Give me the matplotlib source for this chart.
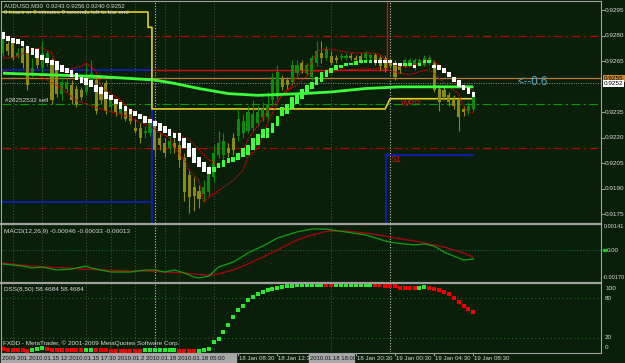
import matplotlib
matplotlib.use("Agg")
import matplotlib.pyplot as plt
from matplotlib.lines import Line2D
from matplotlib.patches import Rectangle

plt.rcParams["font.family"] = ["Liberation Sans", "DejaVu Sans"]

W, H = 625, 363
BG = "#0a1f0a"
FG = "#d8d8d8"
BULL = "#0c8a0c"
BEAR = "#8c8a10"

# AUDUSD M30, bar 0 = 15 Jan 08:30 ... bar 96 = 19 Jan 08:30
opens = [.9270, .9275, .9276, .9268, .9273, .9273, .9258, .9271, .9261, .9264,
         .9266, .9261, .9246, .9249, .9251, .9249, .9248, .9247, .9254, .9254,
         .9250, .9252, .9238, .9241, .9234, .9237, .9235, .9226, .9226, .9223,
         .9223, .9227, .9220, .9217, .9214, .9217, .9216, .9208, .9198, .9191,
         .9189, .9187, .9188, .9197, .9210, .9210, .9214, .9220, .9221, .9223,
         .9224, .9226, .9229, .9232, .9232, .9242, .9244, .9255, .9254, .9253,
         .9258, .9264, .9258, .9256, .9264, .9270, .9267, .9268, .9267, .9267,
         .9267, .9268, .9267, .9268, .9267, .9267, .9269, .9267, .9267, .9266,
         .9264, .9263, .9262, .9263, .9261, .9264, .9263, .9264, .9264, .9249,
         .9248, .9245, .9243, .9242, .9237, .9236, .9237]
highs = [.9283, .9277, .9277, .9273, .9276, .9274, .9267, .9273, .9277, .9271,
         .9267, .9264, .9256, .9255, .9254, .9251, .9250, .9264, .9266, .9256,
         .9251, .9254, .9245, .9243, .9242, .9240, .9237, .9231, .9229, .9227,
         .9231, .9230, .9223, .9220, .9221, .9220, .9218, .9211, .9201, .9197,
         .9192, .9195, .9204, .9216, .9224, .9223, .9217, .9223, .9237, .9234,
         .9239, .9242, .9239, .9241, .9247, .9258, .9263, .9257, .9256, .9266,
         .9266, .9266, .9264, .9269, .9277, .9277, .9274, .9271, .9269, .9270,
         .9270, .9270, .9269, .9270, .9271, .9270, .9270, .9269, .9269, .9267,
         .9266, .9264, .9267, .9267, .9267, .9267, .9269, .9269, .9266, .9251,
         .9250, .9247, .9245, .9244, .9239, .9241, .9248]
lows = [.9268, .9269, .9266, .9267, .9261, .9248, .9256, .9261, .9258, .9262,
        .9240, .9244, .9242, .9247, .9240, .9238, .9242, .9245, .9251, .9234,
        .9240, .9234, .9236, .9233, .9231, .9230, .9228, .9223, .9217, .9220,
        .9221, .9210, .9213, .9209, .9211, .9211, .9203, .9183, .9176, .9177,
        .9179, .9183, .9186, .9194, .9208, .9207, .9209, .9210, .9218, .9220,
        .9223, .9224, .9227, .9230, .9230, .9239, .9242, .9248, .9249, .9251,
        .9256, .9258, .9257, .9254, .9262, .9264, .9266, .9263, .9264, .9266,
        .9266, .9266, .9264, .9264, .9266, .9266, .9263, .9260, .9259, .9261,
        .9254, .9258, .9261, .9262, .9260, .9263, .9262, .9263, .9247, .9236,
        .9242, .9239, .9237, .9224, .9233, .9234, .9236]
closes = [.9280, .9271, .9267, .9270, .9264, .9251, .9261, .9263, .9270, .9270,
          .9242, .9246, .9253, .9253, .9242, .9240, .9244, .9256, .9258, .9236,
          .9242, .9236, .9242, .9235, .9240, .9231, .9230, .9224, .9220, .9224,
          .9229, .9213, .9216, .9211, .9218, .9214, .9207, .9188, .9185, .9186,
          .9184, .9191, .9201, .9211, .9217, .9218, .9211, .9213, .9231, .9230,
          .9235, .9234, .9235, .9237, .9240, .9256, .9259, .9250, .9251, .9263,
          .9263, .9260, .9263, .9267, .9271, .9267, .9272, .9264, .9266, .9268,
          .9268, .9267, .9266, .9266, .9270, .9269, .9264, .9262, .9261, .9262,
          .9256, .9260, .9266, .9266, .9266, .9266, .9267, .9267, .9248, .9241,
          .9244, .9241, .9239, .9232, .9235, .9239, .9246]

# Heiken Ashi blocks
ha_open = [.9282, .9280, .9279, .9278, .9277, .9274, .9273, .9272, .9269, .9267,
           .9266, .9265, .9263, .9261, .9260, .9258, .9256, .9255, .9254, .9251,
           .9250, .9247, .9245, .9243, .9241, .9239, .9237, .9236, .9234, .9233,
           .9231, .9230, .9229, .9227, .9225, .9223, .9223, .9220, .9217, .9214,
           .9209, .9206, .9203, .9200, .9202, .9203, .9205, .9206, .9207, .9209,
           .9210, .9213, .9216, .9220, .9220, .9223, .9227, .9233, .9234, .9237,
           .9240, .9243, .9246, .9249, .9251, .9253, .9256, .9258, .9260, .9261,
           .9262, .9263, .9263, .9264, .9264, .9264, .9266, .9266, .9266, .9266,
           .9264, .9264, .9262, .9262, .9263, .9262, .9264, .9264, .9263, .9263,
           .9261, .9259, .9256, .9254, .9251, .9250, .9247]
ha_close = [.9278, .9277, .9276, .9275, .9274, .9270, .9269, .9267, .9266, .9264,
            .9263, .9260, .9259, .9258, .9256, .9254, .9252, .9251, .9250, .9247,
            .9246, .9243, .9242, .9240, .9237, .9236, .9234, .9233, .9231, .9229,
            .9229, .9227, .9224, .9223, .9221, .9220, .9218, .9214, .9209, .9205,
            .9203, .9200, .9199, .9203, .9205, .9207, .9208, .9209, .9211, .9214,
            .9216, .9220, .9222, .9225, .9226, .9229, .9233, .9238, .9240, .9244,
            .9245, .9249, .9251, .9253, .9256, .9259, .9260, .9261, .9263, .9263,
            .9264, .9264, .9265, .9266, .9266, .9266, .9264, .9264, .9264, .9264,
            .9263, .9262, .9264, .9264, .9261, .9264, .9266, .9266, .9261, .9260,
            .9258, .9256, .9253, .9250, .9248, .9246, .9244]

# moving average (thick lime line)
ma_bars = [0, 10, 20, 31, 35, 40, 46, 52, 61, 67, 74, 81, 89, 96]
ma_vals = [.9258, .9257, .9256, .9254, .9252, .9249, .9246, .9245, .9246, .9247,
           .9249, .9250, .9250, .9250]

# red dotted channel lines
env_up_bars = [0, 2, 6, 8, 10, 11, 12, 13, 16, 17, 19, 20, 21, 24, 26, 28, 30, 32, 34, 36,
               38, 40, 42, 44, 47, 49, 50, 52, 54, 56, 59, 60, 63, 64, 65, 67, 71, 74, 75, 77,
               78, 80, 81, 83, 85, 87, 89, 91, 93, 96]
env_up = [.9267, .9267, .9272, .9273, .9270, .9262, .9259, .9260, .9262, .9264,
          .9259, .9250, .9248, .9242, .9236, .9233, .9232, .9227, .9224, .9222,
          .9219, .9213, .9207, .9204, .9207, .9213, .9219, .9227, .9236, .9242,
          .9251, .9256, .9264, .9270, .9272, .9272, .9270, .9270, .9270, .9269,
          .9266, .9263, .9262, .9262, .9264, .9266, .9263, .9257, .9251, .9248]
env_dn_bars = [0, 2, 6, 9, 12, 15, 18, 21, 24, 26, 28, 30, 32, 34, 35, 37, 38, 40, 41, 42,
               43, 45, 47, 49, 50, 52, 53, 54, 57, 60, 63, 67, 71, 77, 81, 83, 85, 87, 89, 91,
               93, 94, 95, 96]
env_dn = [.9260, .9257, .9259, .9254, .9249, .9242, .9239, .9236, .9234, .9232,
          .9229, .9227, .9223, .9220, .9214, .9207, .9201, .9195, .9182, .9185,
          .9187, .9191, .9195, .9201, .9209, .9214, .9220, .9229, .9246, .9251,
          .9259, .9260, .9260, .9261, .9258, .9257, .9259, .9260, .9255, .9250,
          .9246, .9238, .9235, .9235]

# daily levels (step lines)
yellow_bars = [-0.2, 29.6, 29.6, 30.4, 30.4, 78, 79, 96]
yellow_vals = [.9294, .9294, .9285, .9285, .9237, .9237, .9243, .9243]
blue_hi = .9260
blue_lo = .9182
red_hi = .9260
s1_level = .9210
level_r = [.9280, .9214]      # red dash-dot
level_g = .9240               # green dash-dot
level_orange = .9255
bid = .9252

# MACD(12,26,9)
macd_bars = [0, 4, 6, 8, 11, 14, 16, 17, 18, 22, 26, 29, 31, 33, 35, 37, 39, 40, 42, 44,
             47, 50, 53, 56, 60, 63, 66, 67, 70, 74, 78, 80, 82, 84, 86, 88, 90, 92, 94, 96]
macd_main = [-0.00085, -0.00098, -0.00110, -0.00104, -0.00122, -0.00116, -0.00104, -0.00098, -0.00110, -0.00134,
             -0.00134, -0.00122, -0.00122, -0.00134, -0.00122, -0.00140, -0.00165, -0.00170, -0.00159, -0.00104,
             -0.00073, -0.00018, 0.00024, 0.00073, 0.00110, 0.00128, 0.00128, 0.00122, 0.00110, 0.00092,
             0.00055, 0.00043, 0.00037, 0.00031, 0.00037, 0.00024, -0.00012, -0.00037, -0.00061, -0.00055]
macd_signal = [-0.00079, -0.00092, -0.00098, -0.00101, -0.00107, -0.00110, -0.00116, -0.00116, -0.00119, -0.00122,
               -0.00128, -0.00128, -0.00131, -0.00134, -0.00137, -0.00140, -0.00146, -0.00149, -0.00153, -0.00146,
               -0.00122, -0.00085, -0.00043, 0.00000, 0.00061, 0.00092, 0.00113, 0.00116, 0.00116, 0.00104,
               0.00085, 0.00073, 0.00064, 0.00055, 0.00043, 0.00031, 0.00018, 0.00000, -0.00018, -0.00043]

# DSS(8,50)
dss = [3, 2, 2, 1, 1, 0, 2, 3, 4, 3, 2, 2, 2, 1, 1, 1, 2, 2, 2, 1,
       1, 1, 0, 0, 0, 0, 0, 0, 0, 1, 1, 1, 1, 1, 1, 1, 0, 0, 0, 0,
       0, 1, 3.5, 14, 18, 28, 39, 51, 62, 69, 78, 82, 87, 90, 93, 94.5, 96, 97, 98, 99,
       99.5, 99.5, 99.5, 100, 100, 100, 100, 100, 100, 100, 100, 100, 100, 100, 100, 100, 100, 100, 99.4, 99.4,
       98, 96, 96, 96, 96, 96, 97, 96, 94.5, 92, 89.4, 87, 81, 74.4, 68.4, 63, 58.47]
dss_dir = ("rrrrrrgggrrrrrrrrggrrrrrrrrrrgggggggrrrr"
           "gggggggggggggggggggggggggg" "rr" "gggggggg" "rrrrrrrrr" "gg" "rrrrrrrrrr")

price_ticks = [0.9295, 0.9280, 0.9265, 0.9235, 0.9220, 0.9205, 0.9190, 0.9175]
time_bars = [48, 56, 72, 80, 88, 96]
time_labels = ["18 Jan 08:30", "18 Jan 12:3", "18 Jan 20:30",
               "19 Jan 00:30", "19 Jan 04:30", "19 Jan 08:30"]
vline_bars = [2, 8, 17, 22, 27, 33, 36, 43, 67]
day_sep_bars = [31, 79]

fig = plt.figure(figsize=(W / 100, H / 100), dpi=100, facecolor=BG)


def panel(y0, y1):
    ax = fig.add_axes([2 / W, 1 - y1 / H, 599 / W, (y1 - y0) / H])
    ax.set_facecolor(BG)
    ax.set_xlim(-0.2, 122.04)
    for s in ax.spines.values():
        s.set_visible(False)
    ax.set_xticks([])
    ax.set_yticks([])
    for b in vline_bars:
        ax.axvline(b, color="#5a5050", lw=0.7, ls=(0, (1, 2)), zorder=1)
    for b in day_sep_bars:
        ax.axvline(b, color="#c8c0c0", lw=0.8, ls=(0, (1, 1.5)), zorder=1)
    return ax


def figline(x0, y0, x1, y1, color="#a0a0a0", lw=0.8):
    fig.add_artist(Line2D([x0 / W, x1 / W], [1 - y0 / H, 1 - y1 / H], color=color, lw=lw))


def ftext(x, y, s, **kw):
    kw.setdefault("color", FG)
    kw.setdefault("fontsize", 4.6)
    kw.setdefault("va", "center")
    fig.text(x / W, 1 - y / H, s, **kw)


# ---------------- main chart ----------------
ax = panel(2, 223)
ax.set_ylim(0.91699, 0.92999)
n = len(closes)

for lv in level_r:
    ax.axhline(lv, color="#c00000", lw=0.8, ls=(0, (8, 3, 2, 3)), zorder=2)
ax.axhline(level_g, color="#00a000", lw=0.8, ls=(0, (8, 3, 2, 3)), zorder=2)
ax.axhline(level_orange, color="#c07830", lw=0.9, zorder=2)
ax.axhline(bid, color="#909090", lw=0.7, ls=(0, (1, 1.5)), zorder=2)

ax.plot([-0.2, 30.4], [blue_hi, blue_hi], color="#1020c0", lw=1.2, zorder=2)
ax.plot([-0.2, 30.4], [blue_lo, blue_lo], color="#1020c0", lw=1.2, zorder=2)
ax.plot([30.4, 30.4], [blue_hi, 0.9169], color="#1020c0", lw=1.2, zorder=2)
ax.plot([78.2, 96], [s1_level, s1_level], color="#1020c0", lw=1.2, zorder=2)
ax.plot([78.2, 78.2], [s1_level, 0.9169], color="#1020c0", lw=1.2, zorder=2)
ax.plot([30.6, 78.4, 78.4], [red_hi, red_hi, 0.9300], color="#d01010", lw=1.0, zorder=2)
ax.plot(yellow_bars, yellow_vals, color="#e0d020", lw=1.2, zorder=2)

for i in range(n):
    col = BULL if closes[i] >= opens[i] else BEAR
    ax.vlines(i, lows[i], highs[i], color=col, lw=0.8, zorder=3)
    body = max(abs(closes[i] - opens[i]), 0.00003)
    ax.bar(i, body, bottom=min(opens[i], closes[i]), width=0.62, color=col, zorder=3)

ax.plot(env_up_bars, env_up, color="#e00000", lw=0.9, ls=(0, (1.2, 0.9)), zorder=4)
ax.plot(env_dn_bars, env_dn, color="#e00000", lw=0.9, ls=(0, (1.2, 0.9)), zorder=4)
ax.plot(ma_bars, ma_vals, color="#3cff3c", lw=2.0, zorder=4, solid_capstyle="butt")

for i in range(n):
    col = "#ffffff" if ha_close[i] < ha_open[i] else "#3cff3c"
    body = max(abs(ha_close[i] - ha_open[i]), 0.00008)
    ax.bar(i, body, bottom=min(ha_open[i], ha_close[i]), width=0.75, color=col, zorder=5)

yt = ax.get_yaxis_transform()
for p in price_ticks:
    ax.plot([1.0, 1.005], [p, p], color="#a0a0a0", lw=0.7, transform=yt, clip_on=False)
    ax.text(1.007, p, f"{p:.4f}", transform=yt, color=FG, fontsize=4.6, va="center")
ax.text(1.005, level_orange, "0.9255", transform=yt, color="#000000", fontsize=4.6, va="center",
        bbox=dict(boxstyle="square,pad=0.15", fc="#c88a30", ec="none"))
ax.text(1.005, bid, "0.9252", transform=yt, color="#000000", fontsize=4.6, va="center",
        bbox=dict(boxstyle="square,pad=0.15", fc="#ffffff", ec="none"))

ftext(4, 6, "AUDUSD,M30  0.9243 0.9256 0.9240 0.9252", fontsize=4.3)
ftext(4, 13, "0 hours or 0 minutes 0 seconds left to bar end", fontsize=4.4)
ftext(5, 100, "#28252532 sell")
ftext(517, 82, "<--0:6", color="#58a8c8", fontsize=8.3)
ftext(401, 103, "WPP", color="#d01010", fontsize=6.5)
ftext(391, 160, "S1", color="#d01010", fontsize=6.5)

# ---------------- MACD ----------------
axm = panel(225, 281)
axm.set_ylim(-0.00189, 0.001525)
axm.axhline(0, color="#207050", lw=0.7, ls=(0, (1, 2)))
axm.plot(macd_bars, macd_signal, color="#b00010", lw=0.9)
axm.plot(macd_bars, macd_main, color="#10a010", lw=0.9)
myt = axm.get_yaxis_transform()
axm.text(1.005, 0.00141, "0.00141", transform=myt, color=FG, fontsize=4.0, va="center")
axm.text(1.003, -0.0017, "-0.00170", transform=myt, color=FG, fontsize=4.0, va="center")
axm.text(1.009, 0.0, "0.00", transform=myt, color=FG, fontsize=4.4, va="center")
axm.add_patch(Rectangle((1.003, -0.00008), 0.005, 0.00016, transform=myt, color="#20c020", clip_on=False))
ftext(4, 232, "MACD(12,26,9) -0.00046 -0.00033 -0.00013")

# ---------------- DSS ----------------
axd = panel(283.5, 352)
axd.set_ylim(-1.8, 102.5)
axd.axhline(80, color="#208020", lw=0.7, ls=(0, (1, 3)))
axd.axhline(20, color="#208020", lw=0.7, ls=(0, (1, 3)))
for i in range(n):
    axd.plot(i, dss[i], marker="s", ms=2.6, mew=0,
             color="#2ce82c" if dss_dir[i] == "g" else "#f00000")
dyt = axd.get_yaxis_transform()
for v, lab in [(95, "100"), (80, "80"), (20, "20"), (5, "0")]:
    axd.text(1.007, v, lab, transform=dyt, color=FG, fontsize=4.6, va="center")
ftext(4, 289, "DSS(8,50) 58.4684 58.4684")
ftext(3, 343, "FXDD - MetaTrader, \u00a9 2001-2009 MetaQuotes Software Corp.")

# ---------------- frame ----------------
figline(1, 1, 601, 1)
figline(1, 1, 1, 352.5)
figline(601, 1, 601, 352.5)
figline(1, 224, 601, 224, lw=1.6)
figline(1, 282.5, 601, 282.5, lw=1.6)
figline(1, 352.5, 601, 352.5)

# ---------------- time axis ----------------
for b, lab in zip(time_bars, time_labels):
    x = 3 + 4.9 * b
    figline(x, 352.5, x, 355)
    ftext(x + 1, 358.5, lab, fontsize=4.4)
fig.add_artist(Rectangle((1 / W, 1 - 362 / H), 235 / W, 8 / H, transform=fig.transFigure,
                         color="#a8a8a8"))
ftext(2, 358.5, "2009 201 2010.01.15 12:2010.01.15 17:30 2010.01.2 2010.01.18 2010.01.18 05:00",
      color="#101010", fontsize=4.3)
fig.add_artist(Rectangle((309 / W, 1 - 362 / H), 45 / W, 8 / H, transform=fig.transFigure,
                         color="#a8a8a8"))
ftext(310, 358.5, "2010.01.18 18:00", color="#101010", fontsize=4.2)

fig.savefig("out.png", dpi=100, facecolor=BG)
